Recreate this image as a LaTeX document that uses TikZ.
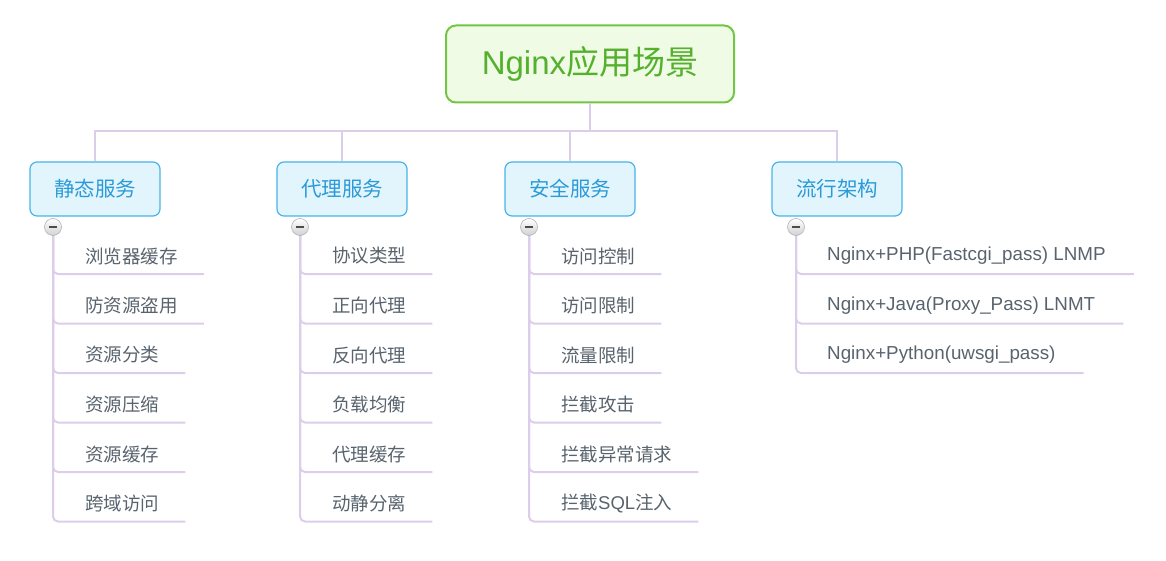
\documentclass[tikz,border=0pt]{standalone}
\usepackage{fontspec}
\setmainfont{Liberation Sans}
\newfontfamily\cjk{Noto Sans CJK SC}
\usetikzlibrary{calc}
\definecolor{conn}{HTML}{DCCDEB}
\definecolor{rootfill}{HTML}{EFFBE5}
\definecolor{rootdraw}{HTML}{72C545}
\definecolor{roottext}{HTML}{55B02E}
\definecolor{catfill}{HTML}{E3F5FC}
\definecolor{catdraw}{HTML}{48B4E8}
\definecolor{cattext}{HTML}{2B9AD8}
\definecolor{leaftext}{HTML}{58636D}
\tikzset{
  connector/.style={draw=conn, line width=2pt, rounded corners=5pt},
  rootbox/.style={draw=rootdraw, fill=rootfill, line width=2pt, rounded corners=10pt,
    minimum width=288pt, minimum height=77pt, text=roottext, font=\fontsize{33}{36}\selectfont},
  catbox/.style={draw=catdraw, fill=catfill, line width=1.2pt, rounded corners=7pt,
    minimum width=130pt, minimum height=54pt, text=cattext, font=\fontsize{20.5}{24}\cjk},
  leaf/.style={anchor=west, inner sep=0pt, text=leaftext, font=\fontsize{18.5}{22}\cjk},
  leaflat/.style={anchor=west, inner sep=0pt, text=leaftext, font=\fontsize{18.8}{22}\selectfont},
  minusbtn/.style={circle, draw=black!30, line width=0.6pt, top color=white, bottom color=black!18,
    minimum size=17pt, inner sep=0pt,
    path picture={\draw[black!70, line width=1.8pt] ([xshift=-3.8pt]path picture bounding box.center) -- ([xshift=3.8pt]path picture bounding box.center);}},
}
\begin{document}
\begin{tikzpicture}[x=1pt,y=-1pt]
\useasboundingbox (0,0) rectangle (1166,561);
% root
\node[rootbox] (root) at (590,64) {Nginx{\cjk 应用场景}};
\coordinate (hub) at (590,131.5);
% categories
\node[catbox] (c1) at (95,189) {静态服务};
\node[catbox] (c2) at (342,189) {代理服务};
\node[catbox] (c3) at (570,189) {安全服务};
\node[catbox] (c4) at (837,189) {流行架构};
\draw[connector, rounded corners=0pt] (root.south) -- (hub);
\draw[connector, rounded corners=0pt] (hub) -| (c1.north);
\draw[connector, rounded corners=0pt] (hub) -| (c2.north);
\draw[connector, rounded corners=0pt] (hub) -| (c3.north);
\draw[connector, rounded corners=0pt] (hub) -| (c4.north);
% leaves column 1
\node[leaf] (a1) at (85,256) {浏览器缓存};
\node[leaf] (a2) at (85,305.5) {防资源盗用};
\node[leaf] (a3) at (85,355) {资源分类};
\node[leaf] (a4) at (85,404.5) {资源压缩};
\node[leaf] (a5) at (85,454) {资源缓存};
\node[leaf] (a6) at (85,503.5) {跨域访问};
% column 2
\node[leaf] (b1) at (332,256) {协议类型};
\node[leaf] (b2) at (332,305.5) {正向代理};
\node[leaf] (b3) at (332,355) {反向代理};
\node[leaf] (b4) at (332,404.5) {负载均衡};
\node[leaf] (b5) at (332,454) {代理缓存};
\node[leaf] (b6) at (332,503.5) {动静分离};
% column 3
\node[leaf] (d1) at (561,256) {访问控制};
\node[leaf] (d2) at (561,305.5) {访问限制};
\node[leaf] (d3) at (561,355) {流量限制};
\node[leaf] (d4) at (561,404.5) {拦截攻击};
\node[leaf] (d5) at (561,454) {拦截异常请求};
\node[leaf] (d6) at (561,503.5) {拦截{\rmfamily SQL}注入};
% column 4
\node[leaflat] (e1) at (827,256) {Nginx+PHP(Fastcgi\_pass) LNMP};
\node[leaflat] (e2) at (827,305.5) {Nginx+Java(Proxy\_Pass) LNMT};
\node[leaflat] (e3) at (827,355) {Nginx+Python(uwsgi\_pass)};
% minus buttons positions
\coordinate (m1c) at (53,227);
\coordinate (m2c) at (300,227);
\coordinate (m3c) at (529,227);
\coordinate (m4c) at (796,227);
% leaf connectors
\foreach \l in {a1,a2,a3,a4,a5,a6}{\draw[connector] (m1c) |- ([xshift=26pt,yshift=-18pt]\l.east);}
\foreach \l in {b1,b2,b3,b4,b5,b6}{\draw[connector] (m2c) |- ([xshift=26pt,yshift=-18pt]\l.east);}
\foreach \l in {d1,d2,d3,d4,d5,d6}{\draw[connector] (m3c) |- ([xshift=26pt,yshift=-18pt]\l.east);}
\foreach \l in {e1,e2,e3}{\draw[connector] (m4c) |- ([xshift=28pt,yshift=-18pt]\l.east);}
\node[minusbtn] (m1) at (m1c) {};
\node[minusbtn] (m2) at (m2c) {};
\node[minusbtn] (m3) at (m3c) {};
\node[minusbtn] (m4) at (m4c) {};
\end{tikzpicture}
\end{document}
